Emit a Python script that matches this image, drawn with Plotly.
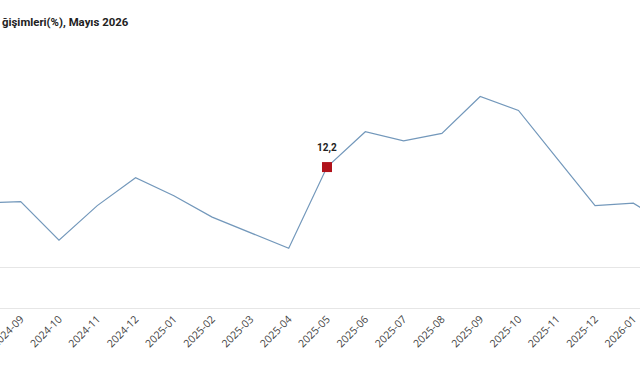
import plotly.graph_objects as go

months = ["2024-08", "2024-09", "2024-10", "2024-11", "2024-12", "2025-01", "2025-02",
          "2025-03", "2025-04", "2025-05", "2025-06", "2025-07", "2025-08", "2025-09",
          "2025-10", "2025-11", "2025-12", "2026-01", "2026-02"]
values = [7.8, 8.0, 3.3, 7.5, 10.9, 8.7, 6.1, 4.2, 2.3, 12.2, 16.5, 15.4, 16.3, 20.8,
          19.1, 13.3, 7.5, 7.8, 5.0]
highlight_month = "2025-05"
title_text = "ğişimleri(%), Mayıs 2026"

hi = months.index(highlight_month)

fig = go.Figure()
fig.add_trace(go.Scatter(
    x=months, y=values, mode="lines",
    line=dict(color="#7398bb", width=1.2),
    hoverinfo="skip", showlegend=False,
))
fig.add_trace(go.Scatter(
    x=[months[hi]], y=[values[hi]], mode="markers",
    marker=dict(symbol="square", size=10, color="#b0121b"),
    showlegend=False, cliponaxis=False, hoverinfo="skip",
))
fig.add_annotation(
    x=months[hi], y=values[hi], xref="x", yref="y",
    text=f"{values[hi]:.1f}".replace(".", ","),
    showarrow=False, yanchor="middle", yshift=19,
    font=dict(family="Roboto", size=10, color="#222222", weight="bold"),
)

fig.add_annotation(
    text=title_text, xref="paper", yref="paper",
    x=0, y=(308 - 22) / 245.6, xanchor="left", yanchor="middle",
    showarrow=False,
    font=dict(family="Roboto", size=11.4, color="#222222", weight="bold"),
)

fig.update_layout(
    width=640, height=375,
    margin=dict(l=0, r=0, t=62, b=67),
    paper_bgcolor="white", plot_bgcolor="white",
    font=dict(family="Open Sans"),
    xaxis=dict(
        type="category", range=[0.4594, 17.174], automargin=False,
        showgrid=False, zeroline=False,
        showline=True, linecolor="#e6e6e6", linewidth=1,
        tickangle=-45, ticks="",
        tickfont=dict(size=10.5, color="#444444"),
    ),
    yaxis=dict(
        range=[-4.97, 25], showgrid=False, showticklabels=False, automargin=False,
        zeroline=True, zerolinecolor="#e6e6e6", zerolinewidth=1,
    ),
)

fig.write_html("out.html")
